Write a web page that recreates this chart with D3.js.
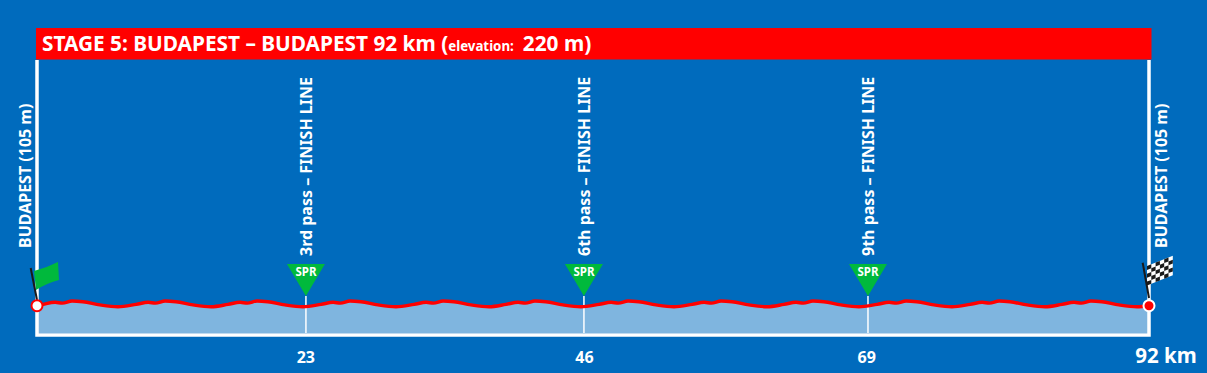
<!DOCTYPE html>
<html>
<head>
<meta charset="utf-8">
<script src="https://d3js.org/d3.v7.min.js"></script>
<style>
  html, body { margin: 0; padding: 0; background: #006bbd; }
  svg { display: block; }
  text { font-family: "Noto Sans", sans-serif; font-weight: 700; fill: #fff; }
</style>
</head>
<body>
<div id="chart"></div>
<script>
// Stage profile, values
const kmPoints = [0,
  0.5, 1.5, 2.1, 2.9, 3.8, 5.2, 6.7,
  8.2, 9.2, 9.8, 10.6, 11.5, 12.9, 14.4,
  15.8, 16.8, 17.4, 18.2, 19.1, 20.5, 22.0,
  23.5, 24.5, 25.1, 25.9, 26.8, 28.2, 29.7,
  31.2, 32.2, 32.8, 33.6, 34.5, 35.9, 37.4,
  38.8, 39.8, 40.4, 41.2, 42.1, 43.5, 45.0,
  46.5, 47.5, 48.1, 48.9, 49.8, 51.2, 52.7,
  54.2, 55.2, 55.8, 56.6, 57.5, 58.9, 60.4,
  61.8, 62.8, 63.4, 64.2, 65.1, 66.5, 68.0,
  69.5, 70.5, 71.1, 71.9, 72.8, 74.2, 75.7,
  77.2, 78.2, 78.8, 79.6, 80.5, 81.9, 83.4,
  84.8, 85.8, 86.4, 87.2, 88.1, 89.5, 91.0,
  92];
const elevation = [105,
  110, 118, 115, 123, 120, 108, 101,
  110, 118, 115, 123, 120, 108, 101,
  110, 118, 115, 123, 120, 108, 101,
  110, 118, 115, 123, 120, 108, 101,
  110, 118, 115, 123, 120, 108, 101,
  110, 118, 115, 123, 120, 108, 101,
  110, 118, 115, 123, 120, 108, 101,
  110, 118, 115, 123, 120, 108, 101,
  110, 118, 115, 123, 120, 108, 101,
  110, 118, 115, 123, 120, 108, 101,
  110, 118, 115, 123, 120, 108, 101,
  110, 118, 115, 123, 120, 108, 101,
  105];
const sprintKm = [22.25, 45.25, 68.75];
const sprintLabels = ["3rd pass \u2013 FINISH LINE", "6th pass \u2013 FINISH LINE", "9th pass \u2013 FINISH LINE"];
const tickKm = [22.2, 45.25, 68.6, 92];
const tickLabels = ["23", "46", "69", "92 km"];
const endLabels = ["BUDAPEST (105 m)", "BUDAPEST (105 m)"];

const width = 1207, height = 373;
const plotLeft = 37, plotRight = 1149, plotBottom = 333, plotTop = 60;

const svg = d3.select("#chart").append("svg")
    .attr("width", width)
    .attr("height", height);

const x = d3.scaleLinear().domain([0, 92]).range([plotLeft, plotRight]);
const y = d3.scaleLinear().domain([0, 105]).range([plotBottom, 305.7]);

const profile = kmPoints.map((km, i) => ({ km: km, ele: elevation[i] }));

// area under the profile
const area = d3.area()
    .x(d => x(d.km))
    .y0(plotBottom)
    .y1(d => y(d.ele))
    .curve(d3.curveMonotoneX);

svg.append("path")
    .datum(profile)
    .attr("d", area)
    .attr("fill", "#7fb5df");

// sprint lines
svg.selectAll("line.sprint")
    .data(sprintKm)
    .enter()
    .append("line")
    .attr("class", "sprint")
    .attr("x1", d => x(d))
    .attr("x2", d => x(d))
    .attr("y1", 296)
    .attr("y2", plotBottom)
    .attr("stroke", "#fff")
    .attr("stroke-width", 1.5);

// frame
svg.append("path")
    .attr("d", d3.line()([[plotLeft, plotTop], [plotLeft, plotBottom + 2], [plotRight, plotBottom + 2], [plotRight, plotTop]]))
    .attr("fill", "none")
    .attr("stroke", "#fff")
    .attr("stroke-width", 3.5);

// red line
const line = d3.line()
    .x(d => x(d.km))
    .y(d => y(d.ele))
    .curve(d3.curveMonotoneX);

svg.append("path")
    .datum(profile)
    .attr("d", line)
    .attr("fill", "none")
    .attr("stroke", "#ff0000")
    .attr("stroke-width", 3.4);

// title bar
svg.append("rect")
    .attr("x", 36)
    .attr("y", 28)
    .attr("width", 1115.5)
    .attr("height", 31.5)
    .attr("fill", "#ff0000");

const title = svg.append("text")
    .attr("x", 42)
    .attr("y", 50.5)
    .attr("font-size", 20.8);
title.append("tspan").text("STAGE 5: BUDAPEST \u2013 BUDAPEST 92 km (");
title.append("tspan").attr("font-size", 13.3).text("elevation:");
title.append("tspan").attr("dx", 9).text("220 m)");

// sprint markers
const sprints = svg.selectAll("g.spr")
    .data(sprintKm)
    .enter()
    .append("g")
    .attr("class", "spr")
    .attr("transform", d => "translate(" + x(d) + ",0)");

sprints.append("path")
    .attr("d", "M-19,264L19,264L0,296Z")
    .attr("fill", "#00b93c");

sprints.append("text")
    .attr("y", 276)
    .attr("text-anchor", "middle")
    .attr("font-size", 11.5)
    .text("SPR");

sprints.append("text")
    .attr("transform", "translate(6,256) rotate(-90)")
    .attr("font-size", 16)
    .text((d, i) => sprintLabels[i]);

// start and finish names
svg.selectAll("text.place")
    .data(endLabels)
    .enter()
    .append("text")
    .attr("class", "place")
    .attr("transform", (d, i) => "translate(" + (i == 0 ? 31 : 1167) + ",248) rotate(-90)")
    .attr("font-size", 16)
    .text(d => d);

// start flag
svg.append("path")
    .attr("d", "M34,271Q46,268 58,262L59,280Q47,283 36,290Z")
    .attr("fill", "#00b93c");
svg.append("line")
    .attr("x1", 30.7).attr("y1", 268)
    .attr("x2", x(0)).attr("y2", 300)
    .attr("stroke", "#1a1a1a")
    .attr("stroke-width", 2);

// finish flag, chequered cells on a skewed grid
const cols = d3.range(6), rows = d3.range(5);
const flag = svg.append("g")
    .attr("transform", "matrix(4.3,-1.7,0,3.9,1147,266)");
flag.append("rect")
    .attr("width", 6).attr("height", 5)
    .attr("fill", "#fff");
cols.forEach(c => rows.forEach(r => {
    if ((c + r) % 2 == 0) {
        flag.append("rect")
            .attr("x", c).attr("y", r)
            .attr("width", 1).attr("height", 1)
            .attr("fill", "#1a1a1a");
    }
}));
svg.append("line")
    .attr("x1", 1142.7).attr("y1", 262.7)
    .attr("x2", x(92)).attr("y2", 298)
    .attr("stroke", "#1a1a1a")
    .attr("stroke-width", 2);

// end markers
svg.append("circle")
    .attr("cx", x(0)).attr("cy", y(105)).attr("r", 5.5)
    .attr("fill", "#fff")
    .attr("stroke", "#ff0000")
    .attr("stroke-width", 2);
svg.append("circle")
    .attr("cx", x(92)).attr("cy", y(105)).attr("r", 5.5)
    .attr("fill", "#ff0000")
    .attr("stroke", "#fff")
    .attr("stroke-width", 2);

// km axis
const xAxis = d3.axisBottom(x)
    .tickValues(tickKm)
    .tickFormat((d, i) => tickLabels[i])
    .tickSize(0);

const axisG = svg.append("g")
    .attr("transform", "translate(0,350)")
    .call(xAxis);
axisG.select(".domain").remove();
axisG.attr("font-family", null);
axisG.selectAll("text")
    .attr("y", 0)
    .attr("dy", "0.8em")
    .style("font-size", "16px");
axisG.selectAll(".tick:last-of-type text")
    .attr("x", 16.5)
    .attr("y", -3)
    .style("font-size", "20.5px");
</script>
</body>
</html>
